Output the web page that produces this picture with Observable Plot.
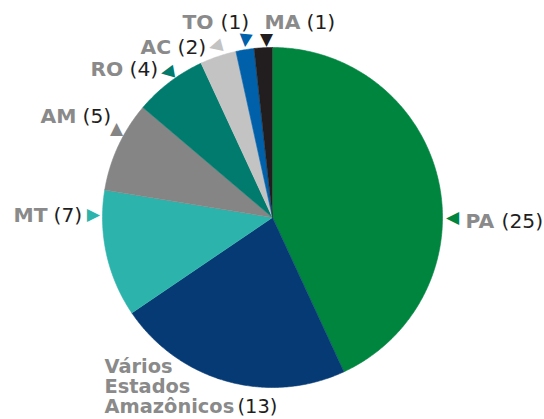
<!DOCTYPE html>
<html>
<head>
<meta charset="utf-8">
<script src="https://cdn.jsdelivr.net/npm/d3@7"></script>
<script src="https://cdn.jsdelivr.net/npm/@observablehq/plot@0.6"></script>
<style>
  html, body { margin: 0; padding: 0; background: #ffffff; }
  #chart svg { display: block; }
</style>
</head>
<body>
<div id="chart"></div>
<script>
// ---- data ----
const categories = ["PA", "Vários Estados Amazônicos", "MT", "AM", "RO", "AC", "TO", "MA"];
const counts = [25, 13, 7, 5, 4, 2, 1, 1];
const nameLabels = ["PA", "Vários\nEstados\nAmazônicos", "MT", "AM", "RO", "AC", "TO", "MA"];
const colors = ["#00853f", "#063a74", "#2cb3ab", "#858585", "#007b6d", "#c3c3c3", "#0061aa", "#221e1f"];

// ---- layout (label placement, pixels) ----
const W = 544, H = 419;
const CX = 272, CY = 217, R = 170;
const labelSize = [20.3, 19.4, 20.3, 20.3, 20.3, 20.3, 20.3, 20.3];
const nameX = [465, 104, 13, 40, 90, 140, 182, 264];
const nameTop = [213, 358, 207, 108, 61, 39, 14, 14];
const countX = [501, 237, 53, 82, 129, 177, 220, 306];
const countTop = [213, 399, 207, 108, 61, 39, 14, 14];
const markX = [451, 212, 94, 116, 166, 214, 245, 266];
const markY = [218, 371, 215, 128, 72, 46, 41, 41];
const markRot = [270, 280, 90, 0, 260, 255, 185, 180];

const rows = categories.map((c, i) => ({
  category: c, count: counts[i], color: colors[i], name: nameLabels[i], fs: labelSize[i],
  nx: nameX[i], ny: nameTop[i], cx: countX[i], cy: countTop[i],
  mx: markX[i], my: markY[i], mr: markRot[i]
}));

const arcs = d3.pie().sort(null).value(d => d.count).startAngle(0).endAngle(2 * Math.PI)(rows);
const slicePts = [];
for (const a of arcs) {
  const key = a.data.category;
  slicePts.push({key, color: a.data.color, x: CX, y: CY});
  const n = Math.max(2, Math.ceil((a.endAngle - a.startAngle) / (Math.PI / 360)));
  for (let k = 0; k <= n; k++) {
    const t = a.startAngle + (a.endAngle - a.startAngle) * k / n;
    slicePts.push({key, color: a.data.color, x: CX + R * Math.sin(t), y: CY - R * Math.cos(t)});
  }
}

const chart = Plot.plot({
  width: W,
  height: H,
  margin: 0,
  x: {domain: [0, W], range: [0, W], axis: null},
  y: {domain: [0, H], range: [0, H], axis: null},
  style: {fontFamily: "'DejaVu Sans', Verdana, sans-serif", background: "#ffffff"},
  marks: [
    Plot.line(slicePts, {x: "x", y: "y", z: "key", fill: "color", stroke: "color", strokeWidth: 0.6, curve: "linear"}),
    Plot.text(rows, {x: "mx", y: "my", text: () => "▲", fill: "color", rotate: "mr", fontSize: 17, textAnchor: "middle", lineAnchor: "middle"}),
    Plot.text(rows, {x: "nx", y: "ny", text: "name", fill: "#8a8a8a", fontWeight: "bold", fontSize: "fs", textAnchor: "start", lineAnchor: "top", lineHeight: 1.03}),
    Plot.text(rows, {x: "cx", y: "cy", text: d => `(${d.count})`, fill: "#1e1e1e", fontSize: "fs", textAnchor: "start", lineAnchor: "top"})
  ]
});
document.getElementById("chart").appendChild(chart);
</script>
</body>
</html>
